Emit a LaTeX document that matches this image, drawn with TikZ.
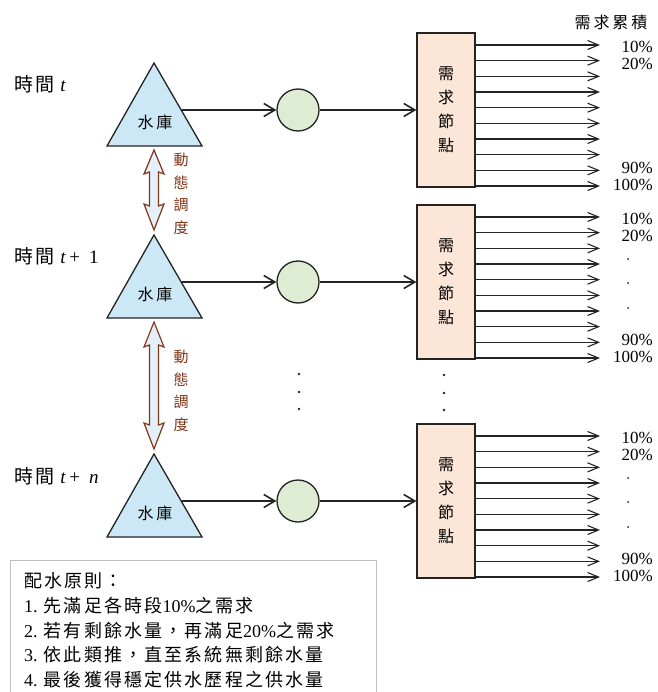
\documentclass[tikz,border=0pt]{standalone}
\usepackage{fontspec}
\setmainfont{Liberation Serif}
\newfontfamily\cjk{Noto Sans CJK TC}
\newfontfamily\cjkw[LetterSpace=12]{Noto Sans CJK TC}
\newfontfamily\cjkww[LetterSpace=18]{Noto Sans CJK TC}
\usetikzlibrary{arrows.meta}
\definecolor{resblue}{RGB}{204,232,246}
\definecolor{juncgreen}{RGB}{222,236,211}
\definecolor{nodepeach}{RGB}{251,230,215}
\definecolor{linec}{RGB}{35,35,35}
\definecolor{brownc}{RGB}{130,52,25}
\definecolor{dblfill}{RGB}{227,240,250}
\definecolor{boxgray}{RGB}{190,190,190}
\begin{document}
\begin{tikzpicture}[x=1pt,y=-1pt,
  tri/.style={draw=linec, fill=resblue, line width=1.3pt, line join=miter},
  restext/.style={inner sep=0pt, font=\cjkww\fontsize{16}{16}\selectfont},
  junc/.style={circle, draw=linec, fill=juncgreen, line width=1.3pt, minimum size=42pt, inner sep=0pt},
  demand/.style={draw=linec, fill=nodepeach, line width=1.3pt, minimum width=58pt, minimum height=154pt, inner sep=0pt, align=center, font=\cjk\fontsize{16}{24}\selectfont},
  mainarrow/.style={draw=linec, line width=1.6pt, -{Straight Barb[length=11pt,width=13pt]}},
  thinarrow/.style={draw=linec, line width=1.1pt, -{Straight Barb[length=11pt,width=9pt]}},
  pct/.style={anchor=east, inner sep=0pt, font=\fontsize{17}{17}\selectfont},
  timelab/.style={anchor=west, inner sep=0pt, font=\fontsize{19}{19}\selectfont},
  dbl/.style={draw=brownc, fill=dblfill, line width=1.2pt, line join=miter},
  dyn/.style={inner sep=0pt, align=center, text=brownc, font=\cjk\fontsize{15}{22.5}\selectfont},
  boxline/.style={draw=boxgray, line width=1pt},
  rule/.style={anchor=west, inner sep=0pt, font=\fontsize{18}{18}\selectfont},
  dotc/.style={fill=linec}
]
\useasboundingbox (0,0) rectangle (657,692);

% header
\node[inner sep=0pt, font=\cjkww\fontsize{16}{16}\selectfont] (hdr) at (611,22) {需求累積};

% time labels
\node[timelab] (t1) at (14,84) {{\cjkw 時間}\hspace{6pt}\textit{t}};
\node[timelab] (t2) at (14,256) {{\cjkw 時間}\hspace{6pt}\textit{t}\,+\hspace{9pt}1};
\node[timelab] (t3) at (14,476) {{\cjkw 時間}\hspace{6pt}\textit{t}\,+\hspace{9pt}\textit{n}};

\foreach \y/\k in {110/1,282/2,501/3} {
  \draw[tri] (154,{\y-47}) -- (202,{\y+36}) -- (107,{\y+36}) -- cycle;
  \node[restext] (res\k) at (155,{\y+12}) {水庫};
  \coordinate (out\k) at (181.5,\y);
  \node[junc] (j\k) at (298,\y) {};
  \node[demand] (d\k) at (446,\y) {需\\求\\節\\點};
  \draw[mainarrow] (out\k) -- (j\k.west);
  \draw[mainarrow] (j\k.east) -- (d\k.west);
  \foreach \i in {0,...,9} {
    \coordinate (s\k-\i) at (475,{\y-65+\i*15.67});
    \coordinate (e\k-\i) at (600,{\y-65+\i*15.67});
    \draw[thinarrow] (s\k-\i) -- (e\k-\i);
  }
  \node[pct] (p\k a) at (653,{\y-63}) {10\%};
  \node[pct] (p\k b) at (653,{\y-46}) {20\%};
  \node[pct] (p\k c) at (653,{\y+58}) {90\%};
  \node[pct] (p\k d) at (653,{\y+75}) {100\%};
}
% dots between 20% and 90% (levels 2 and 3)
\foreach \y in {282,501} {
  \fill[dotc] (628,{\y-23}) circle (1pt);
  \fill[dotc] (628,{\y+1}) circle (1pt);
  \fill[dotc] (628,{\y+26}) circle (1pt);
}

% vertical ellipsis
\foreach \yy in {374,392,409} {
  \fill[dotc] (299,\yy) circle (1.3pt);
  \fill[dotc] (444,{\yy+1}) circle (1.3pt);
}

% dynamic dispatch double arrows
\draw[dbl] (154,150) -- (164,174) -- (158.5,172) -- (158.5,206) -- (164,204) -- (154,230) -- (144,204) -- (149.5,206) -- (149.5,172) -- (144,174) -- cycle;
\node[dyn] (dyn1) at (181,194) {動\\態\\調\\度};
\draw[dbl] (154,322) -- (164,347) -- (158.5,345) -- (158.5,425) -- (164,423) -- (154,449) -- (144,423) -- (149.5,425) -- (149.5,345) -- (144,347) -- cycle;
\node[dyn] (dyn2) at (181,391) {動\\態\\調\\度};

% rules box
\draw[boxline] (10,700) -- (10,560) -- (376,560) -- (376,700);
\node[rule] (r0) at (24,581) {{\cjkw 配水原則：}};
\node[rule] (r1) at (24,606) {1. {\cjkw 先滿足各時段}10\%{\cjkw 之需求}};
\node[rule] (r2) at (24,631) {2. {\cjkw 若有剩餘水量，再滿足}20\%{\cjkw 之需求}};
\node[rule] (r3) at (24,655) {3. {\cjkw 依此類推，直至系統無剩餘水量}};
\node[rule] (r4) at (24,680) {4. {\cjkw 最後獲得穩定供水歷程之供水量}};
\end{tikzpicture}
\end{document}
